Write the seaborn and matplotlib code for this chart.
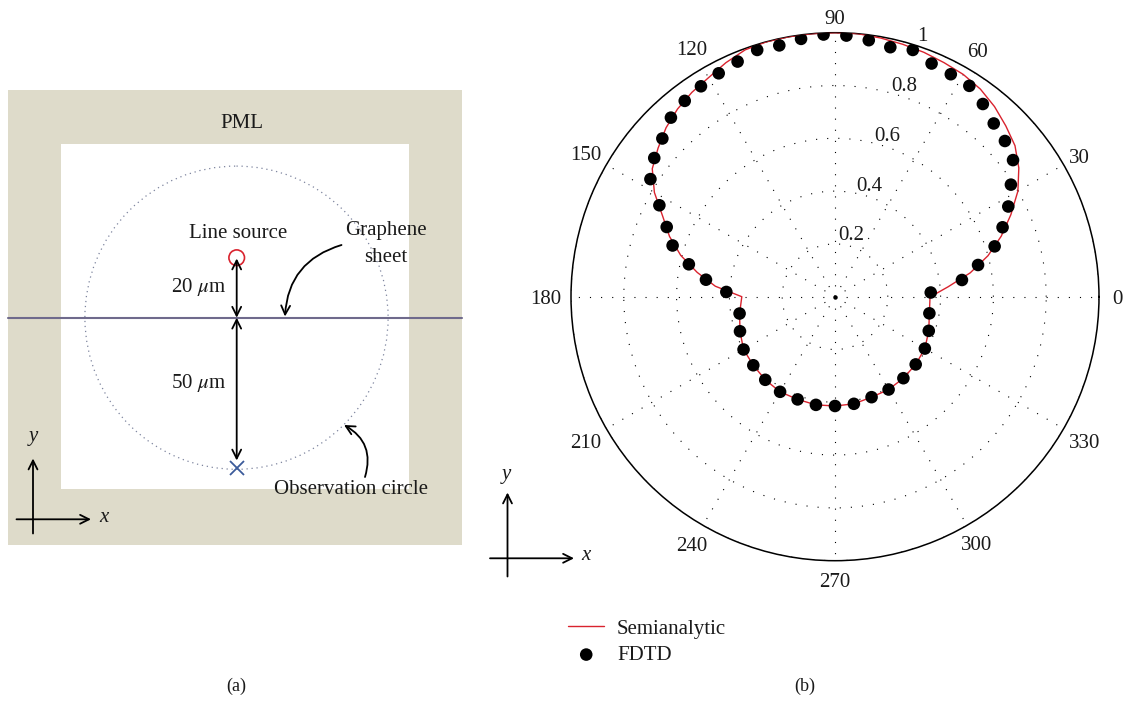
import numpy as np
import pandas as pd
import matplotlib
matplotlib.use("Agg")
import matplotlib.pyplot as plt
import seaborn as sns
from matplotlib.patches import Rectangle, Circle
from matplotlib.transforms import ScaledTranslation

# ---------------- data ----------------
semi_theta_deg = [0, 5, 10, 15, 20, 25, 30, 35, 40, 45, 50, 55, 60, 65, 70, 75, 80, 85,
                  90, 95, 100, 105, 110, 115, 120, 125, 130, 135, 140, 145, 150, 155,
                  160, 165, 170, 175, 180,
                  190, 200, 210, 220, 230, 240, 250, 260, 270, 280, 290, 300, 310,
                  320, 330, 340, 350, 360]
semi_r = [0.362, 0.43, 0.52, 0.60, 0.67, 0.735, 0.80, 0.85, 0.89, 0.915, 0.94, 0.96,
          0.972, 0.978, 0.985, 0.99, 0.995, 1.0,
          1.0, 1.0, 1.0, 1.0, 0.995, 0.978, 0.958, 0.945, 0.928, 0.905, 0.875, 0.845,
          0.79, 0.72, 0.667, 0.605, 0.53, 0.455, 0.353,
          0.367, 0.383, 0.400, 0.404, 0.411, 0.416, 0.414, 0.416, 0.414, 0.412, 0.405,
          0.406, 0.403, 0.399, 0.393, 0.378, 0.363, 0.360]

fdtd_theta_deg = [2.5, 7.5, 12.5, 17.5, 22.5, 27.5, 32.5, 37.5, 42.5, 47.5, 52.5, 57.5,
                  62.5, 67.5, 72.5, 77.5, 82.5, 87.5, 92.5, 97.5, 102.5, 107.5, 112.5,
                  117.5, 122.5, 127.5, 132.5, 137.5, 142.5, 147.5, 152.5, 157.5, 162.5,
                  167.5, 172.5, 177.5,
                  190, 200, 210, 220, 230, 240, 250, 260, 270, 280, 290, 300, 310,
                  320, 330, 340, 350]
fdtd_r = [0.363, 0.485, 0.555, 0.634, 0.687, 0.74, 0.79, 0.85, 0.873, 0.89, 0.92, 0.947,
          0.95, 0.956, 0.98, 0.968, 0.98, 0.99, 0.994, 0.985, 0.975, 0.98, 0.964,
          0.954, 0.945, 0.935, 0.92, 0.887, 0.863, 0.829, 0.75, 0.69, 0.645,
          0.567, 0.493, 0.412,
          0.367, 0.383, 0.400, 0.404, 0.411, 0.416, 0.414, 0.416, 0.414, 0.412, 0.405,
          0.406, 0.403, 0.399, 0.393, 0.378, 0.363]

r_ticks = [0.2, 0.4, 0.6, 0.8, 1.0]
r_tick_labels = ["0.2", "0.4", "0.6", "0.8", "1"]
theta_ticks = [0, 30, 60, 90, 120, 150, 180, 210, 240, 270, 300, 330]
theta_tick_labels = [str(t) for t in theta_ticks]

semi_df = pd.DataFrame({"theta": np.deg2rad(semi_theta_deg), "r": semi_r})
fdtd_df = pd.DataFrame({"theta": np.deg2rad(fdtd_theta_deg), "r": fdtd_r})

# ---------------- style ----------------
sns.set_theme(style="white")
plt.rcParams["font.family"] = ["Liberation Serif", "DejaVu Serif"]
plt.rcParams["mathtext.fontset"] = "stix"
FS = 15
TXT = "#1a1a1a"

W, H = 1125, 701
fig = plt.figure(figsize=(W / 100, H / 100), dpi=100)
fig.patch.set_facecolor("white")

def fx(px):
    return px / W

def fy(py):
    return 1 - py / H

# ---------------- panel (b): polar chart ----------------
cx, cy, R = 835, 296.7, 264
axp = fig.add_axes([fx(cx - R), fy(cy + R), 2 * R / W, 2 * R / H], projection="polar")
sns.lineplot(data=semi_df, x="theta", y="r", ax=axp, color="#d9232e", linewidth=1.0,
             label="Semianalytic", sort=True, zorder=3)
sns.scatterplot(data=fdtd_df, x="theta", y="r", ax=axp, color="black", s=82,
                edgecolor="none", label="FDTD", zorder=4)
axp.set_xlabel("")
axp.set_ylabel("")
axp.set_ylim(0, 1)
axp.set_thetagrids(theta_ticks, [""] * len(theta_ticks))
axp.set_rticks(r_ticks)
axp.set_yticklabels([])
axp.grid(True, color="black", linestyle=(0, (1, 9)), linewidth=0.8)
axp.spines["polar"].set_linewidth(1.1)
axp.spines["polar"].set_color("black")
axp.plot([0], [0], marker="o", markersize=2.2, color="black", zorder=5)

# angular tick labels just outside the frame (distance in pixels beyond the circle)
theta_label_gap_px = [18, 18, 21, 16, 23, 24, 25, 24, 22, 19, 20, 24]
tlab_tr = axp.transData + ScaledTranslation(0, -2.5 / 100, fig.dpi_scale_trans)
for t, lab, gap in zip(theta_ticks, theta_tick_labels, theta_label_gap_px):
    axp.text(np.deg2rad(t), 1 + gap / R, lab, transform=tlab_tr, fontsize=FS, color=TXT,
             ha="center", va="center", clip_on=False, zorder=6)

# radial tick labels along ~70 degrees
rlab_tr = axp.transData + ScaledTranslation(-1 / 100, 11 / 100, fig.dpi_scale_trans)
for rv, lab in zip(r_ticks, r_tick_labels):
    axp.text(np.deg2rad(70.5), rv, lab, transform=rlab_tr, fontsize=FS, color=TXT,
             ha="center", va="center", zorder=6)

leg = axp.legend(loc="upper left", bbox_to_anchor=(fx(568), fy(619)),
                 bbox_transform=fig.transFigure, frameon=False, fontsize=FS,
                 handlelength=1.75, handletextpad=0.6, labelspacing=0.33,
                 borderpad=0, borderaxespad=0)
for t in leg.get_texts():
    t.set_color(TXT)

# ---------------- panel (a): schematic + annotations (pixel coordinates) ----------------
ov = fig.add_axes([0, 0, 1, 1])
ov.set_xlim(0, W)
ov.set_ylim(H, 0)
ov.axis("off")
ov.patch.set_alpha(0)

pml = "#dedbca"
ov.add_patch(Rectangle((8, 90), 454, 455, facecolor=pml, edgecolor="none", zorder=1))
ov.add_patch(Rectangle((61, 144), 348, 345.3, facecolor="white", edgecolor="none", zorder=2))

# observation circle
ov.add_patch(Circle((236.5, 317.7), 151.6, fill=False, edgecolor="#7d849e",
                    linestyle=(0, (1, 3)), linewidth=0.9, zorder=3))
# graphene sheet
ov.plot([8, 462], [317.7, 317.7], color="#6f6a8c", linewidth=1.5, zorder=4)
# line source
ov.add_patch(Circle((236.7, 257.7), 7.8, fill=False, edgecolor="#d9232e", linewidth=1.2, zorder=5))
# observation point
ov.plot([236.7], [467.7], marker="x", markersize=10, color="#3b5b9a", mew=1.3, zorder=5)

arrow_kw = dict(arrowstyle="<->", lw=1.3, color="black", shrinkA=0, shrinkB=0,
                mutation_scale=16)
ov.annotate("", xy=(236.7, 258.5), xytext=(236.7, 317.7), arrowprops=arrow_kw, zorder=6)
ov.annotate("", xy=(236.7, 460.5), xytext=(236.7, 317.7), arrowprops=arrow_kw, zorder=6)

ov.text(242, 123, "PML", fontsize=FS, color=TXT, ha="center", va="center", zorder=7)
ov.text(238, 234, "Line source", fontsize=FS, color=TXT, ha="center", va="center", zorder=7)
ov.text(226, 286.5, r"20 $\mu$m", fontsize=FS, color=TXT, ha="right", va="center", zorder=7)
ov.text(226, 383.5, r"50 $\mu$m", fontsize=FS, color=TXT, ha="right", va="center", zorder=7)
ov.text(386, 230, "Graphene", fontsize=FS, color=TXT, ha="center", va="center", zorder=7)
ov.text(386, 257.5, "sheet", fontsize=FS, color=TXT, ha="center", va="center", zorder=7)
ov.text(350.5, 489.5, "Observation circle", fontsize=FS, color=TXT, ha="center",
        va="center", zorder=7)

ov.annotate("", xy=(285, 316.5), xytext=(341.5, 245),
            arrowprops=dict(arrowstyle="->", lw=1.3, color="black", shrinkA=0, shrinkB=0,
                            mutation_scale=16, connectionstyle="arc3,rad=0.35"), zorder=7)
ov.annotate("", xy=(344, 425), xytext=(365, 477),
            arrowprops=dict(arrowstyle="->", lw=1.3, color="black", shrinkA=0, shrinkB=0,
                            mutation_scale=16, connectionstyle="arc3,rad=0.4"), zorder=7)

# coordinate indicators
def xy_indicator(x0, y_bot, y_top, y_h, x_left, x_right, ylab, xlab):
    k = dict(arrowstyle="->", lw=1.3, color="black", shrinkA=0, shrinkB=0, mutation_scale=16)
    ov.annotate("", xy=(x0, y_top), xytext=(x0, y_bot), arrowprops=k, zorder=7)
    ov.annotate("", xy=(x_right, y_h), xytext=(x_left, y_h), arrowprops=k, zorder=7)
    ov.text(*ylab, "y", fontsize=FS, style="italic", color=TXT, ha="center", va="center")
    ov.text(*xlab, "x", fontsize=FS, style="italic", color=TXT, ha="center", va="center")

xy_indicator(33, 533.5, 458.5, 519.3, 16.5, 91, (33, 436), (103.5, 517))
xy_indicator(507.5, 576.5, 492.5, 558.3, 490, 574, (506.5, 475), (586, 556))

ov.text(236, 686, "(a)", fontsize=13, color=TXT, ha="center", va="center")
ov.text(805, 686, "(b)", fontsize=13, color=TXT, ha="center", va="center")

fig.savefig("out.png", dpi=100, facecolor="white")
